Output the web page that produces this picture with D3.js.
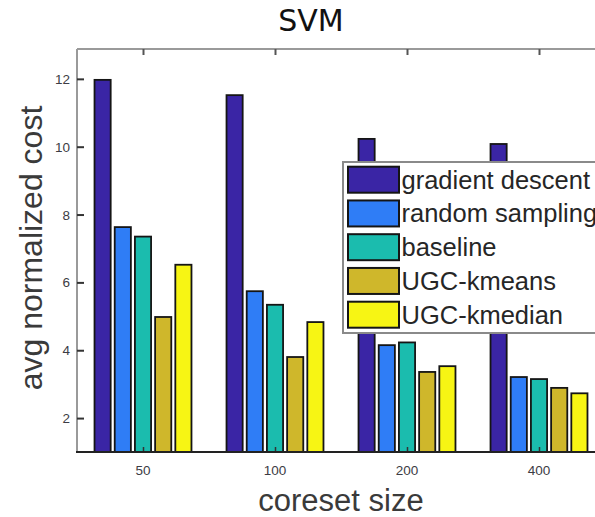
<!DOCTYPE html>
<html>
<head>
<meta charset="utf-8">
<script src="https://cdn.jsdelivr.net/npm/d3@7"></script>
<style>
  body { margin: 0; background: #fff; }
  svg { display: block; }
  .tick-label { font-family: "Liberation Sans", Arial, sans-serif; font-size: 13.5px; fill: #3c3c44; }
  .axis-label { font-family: "Liberation Sans", Arial, sans-serif; font-size: 31px; fill: #3a3a3a; }
  .legend-text { font-family: "Liberation Sans", Arial, sans-serif; font-size: 25.5px; fill: #262626; }
</style>
</head>
<body>
<div id="chart"></div>
<script>
// data
var coresetSizes = ["50", "100", "200", "400"]
var seriesNames = ["gradient descent", "random sampling", "baseline", "UGC-kmeans", "UGC-kmedian"]
var seriesColors = ["#3a25a5", "#2f7df6", "#1bbcae", "#cfb72b", "#f7f514"]
var gradientDescent = [11.97, 11.52, 10.23, 10.08]
var randomSampling = [7.63, 5.74, 4.15, 3.21]
var baseline = [7.35, 5.34, 4.23, 3.15]
var ugcKmeans = [4.98, 3.80, 3.36, 2.89]
var ugcKmedian = [6.52, 4.83, 3.53, 2.73]
var yTicks = [2, 4, 6, 8, 10, 12]

var allSeries = [gradientDescent, randomSampling, baseline, ugcKmeans, ugcKmedian]

var W = 595, H = 517
var plot = { left: 77, right: 605, top: 49, bottom: 452 }

var svg = d3.select("#chart")
    .append("svg")
        .attr("width", W)
        .attr("height", H)

// scales
var x = d3.scaleLinear()
    .domain([0.5, coresetSizes.length + 0.5])
    .range([plot.left, plot.right])

var xInner = d3.scaleBand()
    .domain(seriesNames)
    .range([-50.5, 50.5])
    .paddingInner(0.2)
    .paddingOuter(0.1)

var y = d3.scaleLinear()
    .domain([1, 12.88])
    .range([plot.bottom, plot.top])

// title
svg.append("text")
    .attr("x", 311)
    .attr("y", 31)
    .attr("text-anchor", "middle")
    .style("font-family", "'DejaVu Sans', sans-serif")
    .style("font-size", "30px")
    .style("fill", "#111")
    .text("SVM")

// frame lines (top + left)
svg.append("line")
    .attr("x1", plot.left).attr("x2", W)
    .attr("y1", plot.top).attr("y2", plot.top)
    .attr("stroke", "#9a9a9a").attr("stroke-width", 2)

svg.append("line")
    .attr("x1", plot.left).attr("x2", plot.left)
    .attr("y1", plot.top).attr("y2", plot.bottom)
    .attr("stroke", "#9a9a9a").attr("stroke-width", 2)

// bars
var chart = svg.append("g")

var rows = []
coresetSizes.forEach(function(size, i){
    seriesNames.forEach(function(name, j){
        rows.push({ group: i + 1, name: name, color: seriesColors[j], value: allSeries[j][i] })
    })
})

chart.selectAll("rect")
    .data(rows)
    .enter()
    .append("rect")
        .attr("x", d=> x(d.group) + xInner(d.name))
        .attr("y", d=> y(d.value))
        .attr("width", xInner.bandwidth())
        .attr("height", d=> y(1) - y(d.value))
        .attr("fill", d=> d.color)
        .attr("stroke", "#151515")
        .attr("stroke-width", 1.8)

// y axis (ticks inside)
var y_axis = d3.axisRight(y)
    .tickValues(yTicks)
    .tickSize(7)
    .tickFormat("")

var yAxisCall = svg.append("g")
    .attr("transform", "translate(" + plot.left + ",0)")
    .call(y_axis)
yAxisCall.select(".domain").remove()
yAxisCall.selectAll("line").attr("stroke", "#333").attr("stroke-width", 2)

svg.append("g").selectAll("text")
    .data(yTicks)
    .enter()
    .append("text")
        .attr("class", "tick-label")
        .attr("x", 70)
        .attr("y", d=> y(d) + 5)
        .attr("text-anchor", "end")
        .text(d=> d)

// top axis ticks
var top_axis = d3.axisBottom(x)
    .tickValues(d3.range(1, coresetSizes.length + 1))
    .tickSize(6)
    .tickFormat("")

var topAxisCall = svg.append("g")
    .attr("transform", "translate(0," + plot.top + ")")
    .call(top_axis)
topAxisCall.select(".domain").remove()
topAxisCall.selectAll("line").attr("stroke", "#555").attr("stroke-width", 2)

// bottom axis
var x_axis = d3.axisTop(x)
    .tickValues(d3.range(1, coresetSizes.length + 1))
    .tickSize(5)
    .tickFormat("")

var xAxisCall = svg.append("g")
    .attr("transform", "translate(0," + plot.bottom + ")")
    .call(x_axis)
xAxisCall.select(".domain").remove()
xAxisCall.selectAll("line").attr("stroke", "#333").attr("stroke-width", 1.5)

svg.append("line")
    .attr("x1", plot.left - 1).attr("x2", W)
    .attr("y1", plot.bottom).attr("y2", plot.bottom)
    .attr("stroke", "#222").attr("stroke-width", 2.2)

svg.append("g").selectAll("text")
    .data(coresetSizes)
    .enter()
    .append("text")
        .attr("class", "tick-label")
        .attr("x", (d, i)=> x(i + 1))
        .attr("y", 475)
        .attr("text-anchor", "middle")
        .text(d=> d)

// axis labels
svg.append("text")
    .attr("class", "axis-label")
    .attr("transform", "translate(42,248) rotate(-90)")
    .attr("text-anchor", "middle")
    .style("font-size", "32px")
    .text("avg normalized cost")

svg.append("text")
    .attr("class", "axis-label")
    .attr("x", 341)
    .attr("y", 511)
    .attr("text-anchor", "middle")
    .text("coreset size")

// legend
var legendGroup = svg.append("g")
    .attr("transform", "translate(343,162)")

legendGroup.append("rect")
    .attr("x", 0)
    .attr("y", 0)
    .attr("width", 300)
    .attr("height", 171)
    .attr("fill", "#fff")
    .attr("stroke", "#8a8a8a")
    .attr("stroke-width", 2)

var legItems = legendGroup.selectAll(".leg")
    .data(seriesNames)
    .enter()
    .append("g")
        .attr("class", "leg")
        .attr("transform", (d, i)=> "translate(0," + (4.7 + i * 33.75) + ")")

legItems.append("rect")
    .attr("x", 5)
    .attr("y", 0)
    .attr("width", 51)
    .attr("height", 26)
    .attr("fill", (d, i)=> seriesColors[i])
    .attr("stroke", "#151515")
    .attr("stroke-width", 2)

legItems.append("text")
    .attr("class", "legend-text")
    .attr("x", 58.5)
    .attr("y", 22)
    .text(d=> d)
</script>
</body>
</html>
